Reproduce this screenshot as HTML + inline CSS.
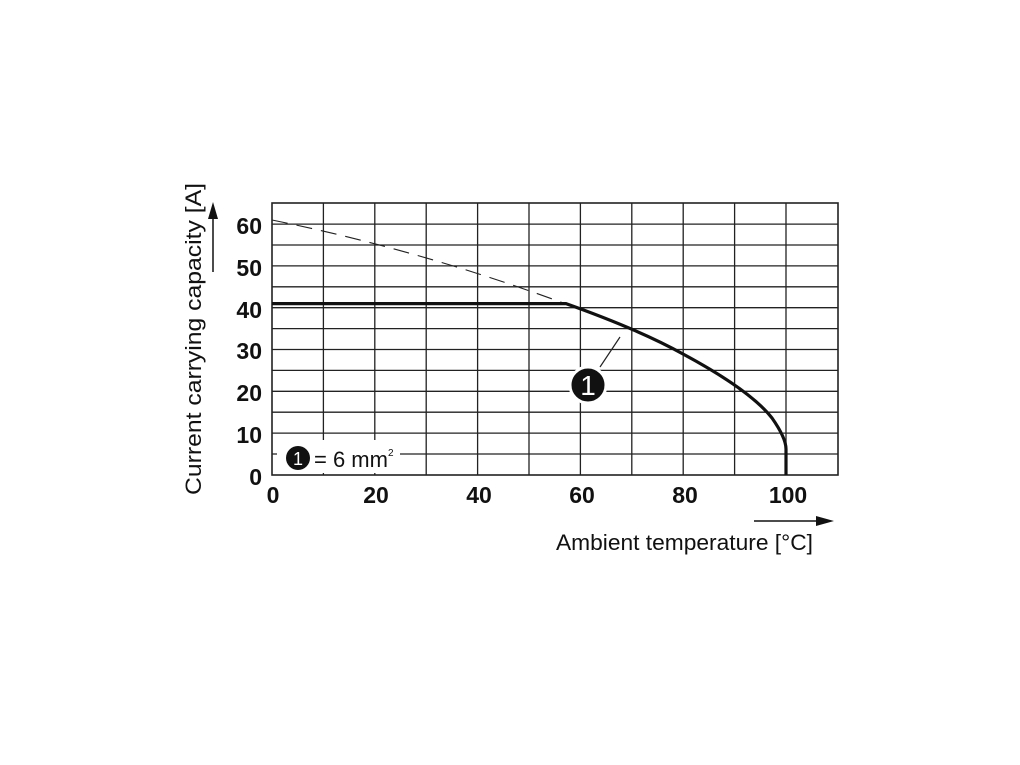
<!DOCTYPE html>
<html><head><style>body{margin:0;background:#fff}svg{display:block}</style></head><body>
<svg width="1020" height="765" xmlns="http://www.w3.org/2000/svg" font-family="Liberation Sans, sans-serif">
<g stroke="#222" stroke-width="1.3" fill="none">
<path d="M323.4 203V475M374.8 203V475M426.2 203V475M477.6 203V475M529 203V475M580.4 203V475M631.8 203V475M683.2 203V475M734.6 203V475M786 203V475"/>
<path d="M272 224.1H838M272 245H838M272 265.9H838M272 286.8H838M272 307.7H838M272 328.6H838M272 349.5H838M272 370.4H838M272 391.3H838M272 412.2H838M272 433.1H838M272 454H838"/>
<rect x="272" y="203" width="566" height="272" stroke-width="1.6"/>
</g>
<rect x="277" y="440" width="123" height="33" fill="#fff"/>
<path d="M272 220 Q420 250 566 304" stroke="#222" stroke-width="1.1" fill="none" stroke-dasharray="16 9"/>
<path d="M272 303.6H566 Q640 330 683 354 Q750 390 772 418 Q786 438 786 449 V475" stroke="#111" stroke-width="3.2" fill="none"/>
<line x1="600" y1="367" x2="620" y2="337" stroke="#222" stroke-width="1.2"/>
<circle cx="588" cy="385" r="18" fill="#111" stroke="#fff" stroke-width="3"/>
<text x="588" y="395" font-size="28" fill="#fff" text-anchor="middle">1</text>
<circle cx="298" cy="458" r="12" fill="#111"/>
<text x="298" y="465" font-size="18" fill="#fff" text-anchor="middle">1</text>
<text x="314" y="467" font-size="22" fill="#111">= 6 mm</text>
<text x="388" y="456" font-size="10" fill="#111">2</text>
<g font-size="23" font-weight="bold" fill="#111" text-anchor="end">
<text x="262" y="234">60</text><text x="262" y="276">50</text><text x="262" y="318">40</text><text x="262" y="359">30</text><text x="262" y="401">20</text><text x="262" y="443">10</text><text x="262" y="485">0</text>
</g>
<g font-size="23" font-weight="bold" fill="#111" text-anchor="middle">
<text x="273" y="503">0</text><text x="376" y="503">20</text><text x="479" y="503">40</text><text x="582" y="503">60</text><text x="685" y="503">80</text><text x="788" y="503">100</text>
</g>
<text transform="translate(201,495) rotate(-90)" font-size="22" fill="#111" textLength="312" lengthAdjust="spacingAndGlyphs">Current carrying capacity [A]</text>
<line x1="213" y1="272" x2="213" y2="215" stroke="#111" stroke-width="1.5"/>
<path d="M208 219 L213 202 L218 219Z" fill="#111"/>
<text x="556" y="550" font-size="22" fill="#111" textLength="257" lengthAdjust="spacingAndGlyphs">Ambient temperature [°C]</text>
<line x1="754" y1="521" x2="820" y2="521" stroke="#111" stroke-width="1.5"/>
<path d="M816 516 L834 521 L816 526Z" fill="#111"/>
</svg>
</body></html>
